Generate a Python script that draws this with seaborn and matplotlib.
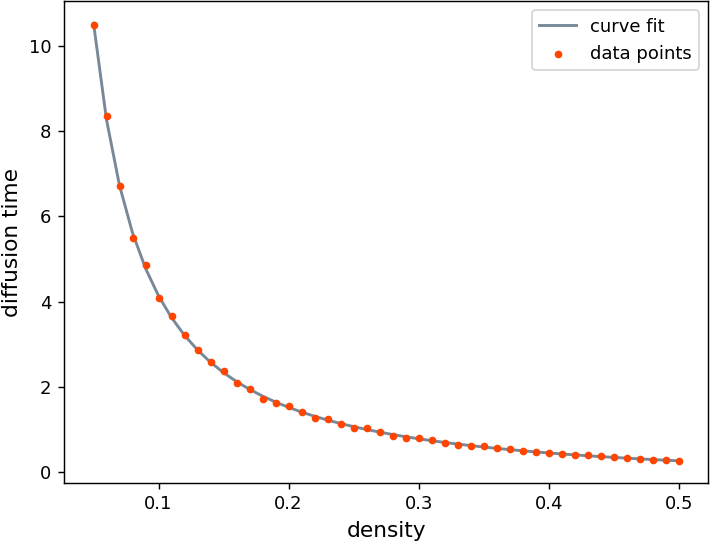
import numpy as np
import pandas as pd
import matplotlib
matplotlib.use("Agg")
import matplotlib.pyplot as plt
import seaborn as sns

# ── data ────────────────────────────────────────────────────────────
density = np.round(np.arange(5, 51) / 100, 2)
diffusion_time = [
    10.50, 8.35, 6.72, 5.50, 4.86, 4.09, 3.67, 3.21, 2.86, 2.59,
    2.37, 2.08, 1.94, 1.72, 1.62, 1.55, 1.40, 1.27, 1.24, 1.13,
    1.03, 1.02, 0.94, 0.85, 0.80, 0.80, 0.74, 0.69, 0.64, 0.60,
    0.61, 0.57, 0.54, 0.50, 0.47, 0.44, 0.41, 0.39, 0.40, 0.37,
    0.35, 0.33, 0.31, 0.29, 0.28, 0.26,
]

df = pd.DataFrame({"density": density, "diffusion time": diffusion_time})

# ── fit y = a * x**b + c (grid over b, least squares for a, c) ──────
x = df["density"].to_numpy()
y = df["diffusion time"].to_numpy()
best = None
for b in np.linspace(-3, -0.3, 541):
    A = np.column_stack([x ** b, np.ones_like(x)])
    coef, *_ = np.linalg.lstsq(A, y, rcond=None)
    err = np.sum((A @ coef - y) ** 2)
    if best is None or err < best[0]:
        best = (err, b, coef)
_, b_fit, (a_fit, c_fit) = best
df["fit"] = a_fit * x ** b_fit + c_fit

# ── figure ──────────────────────────────────────────────────────────
dpi = 130
fig = plt.figure(figsize=(714 / dpi, 543 / dpi), dpi=dpi)
ax = fig.add_axes([0.090, 0.111, 0.9016, 0.8866])

sns.lineplot(data=df, x="density", y="fit", ax=ax, color="#778899",
             linewidth=1.6, label="curve fit", zorder=2)
sns.scatterplot(data=df, x="density", y="diffusion time", ax=ax,
                color="#ff4500", s=18, linewidth=0, label="data points",
                zorder=3)

ax.set_xlabel("density", fontsize=12)
ax.set_ylabel("diffusion time", fontsize=12)
ax.tick_params(labelsize=10)
ax.set_xticks([0.1, 0.2, 0.3, 0.4, 0.5])
ax.set_yticks([0, 2, 4, 6, 8, 10])
ax.legend(loc="upper right", fontsize=10)

fig.savefig("out.png", dpi=dpi)
plt.close(fig)
